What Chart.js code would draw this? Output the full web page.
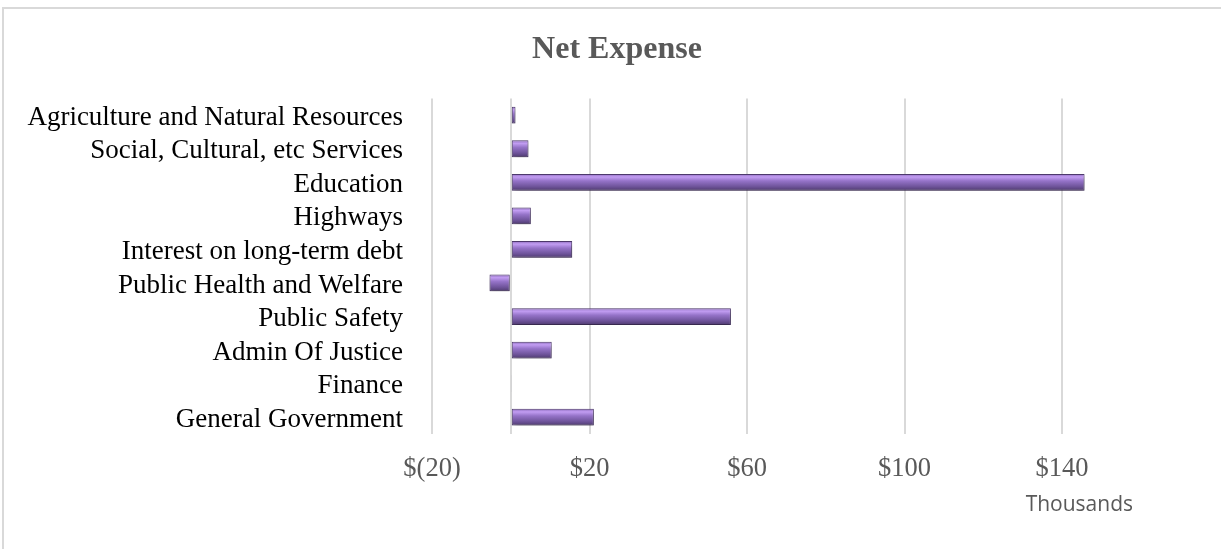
<!DOCTYPE html>
<html>
<head>
<meta charset="utf-8">
<script src="https://cdn.jsdelivr.net/npm/chart.js@4/dist/chart.umd.min.js"></script>
<style>
html,body{margin:0;padding:0;background:#fff;}
#wrap{position:absolute;left:0;top:0;width:1221px;height:549px;}
</style>
</head>
<body>
<div id="wrap"><canvas id="c" width="1221" height="549"></canvas></div>
<script>
const categories = [
  "Agriculture and Natural Resources",
  "Social, Cultural, etc Services",
  "Education",
  "Highways",
  "Interest on long-term debt",
  "Public Health and Welfare",
  "Public Safety",
  "Admin Of Justice",
  "Finance",
  "General Government"
];
const netExpense = [1.2, 4.5, 145.7, 5.1, 15.6, -5.4, 55.9, 10.4, 0.3, 21.1];
const tickValues = [-20, 0, 20, 60, 100, 140];
const labeledTicks = [-20, 20, 60, 100, 140];
const axisMin = -20, axisMax = 158;

function barGradient(ctx, el) {
  const h = el.height;
  const top = el.y - h / 2;
  const g = ctx.createLinearGradient(0, top, 0, top + h);
  g.addColorStop(0, '#8c6bbb');
  g.addColorStop(0.18, '#c29df2');
  g.addColorStop(0.42, '#9573c8');
  g.addColorStop(0.75, '#6f549b');
  g.addColorStop(1, '#4e3a6e');
  return g;
}

const framePlugin = {
  id: 'frame',
  beforeDraw(chart) {
    const ctx = chart.ctx;
    ctx.save();
    ctx.fillStyle = '#fff';
    ctx.fillRect(0, 0, chart.width, chart.height);
    ctx.strokeStyle = '#d9d9d9';
    ctx.lineWidth = 2;
    ctx.strokeRect(3, 8, chart.width + 20, chart.height + 20);
    ctx.restore();
  },
  beforeDatasetsDraw(chart) {
    const meta = chart.getDatasetMeta(0);
    const ctx = chart.ctx;
    meta.data.forEach(el => {
      el.options.backgroundColor = barGradient(ctx, el);
    });
    ctx.save();
    ctx.shadowColor = 'rgba(0,0,0,0.35)';
    ctx.shadowBlur = 5;
    ctx.shadowOffsetY = 3;
    ctx.shadowOffsetX = 1;
  },
  afterDatasetsDraw(chart) {
    chart.ctx.restore();
  }
};

new Chart(document.getElementById('c'), {
  type: 'bar',
  data: {
    labels: categories,
    datasets: [{
      label: 'Net Expense',
      data: netExpense,
      backgroundColor: (c) => '#8064a2',
      borderColor: (c) => '#4e3a6e',
      borderWidth: 1,
      borderSkipped: false,
      categoryPercentage: 1,
      barPercentage: 0.5
    }]
  },
  plugins: [framePlugin],
  options: {
    indexAxis: 'y',
    responsive: false,
    animation: false,
    devicePixelRatio: 1,
    layout: { padding: { left: 101, right: 88, top: 0, bottom: 0 } },
    plugins: {
      legend: { display: false },
      tooltip: { enabled: false },
      title: {
        display: true,
        text: 'Net Expense',
        color: '#595959',
        font: { family: 'Liberation Serif', size: 32, weight: 'bold' },
        padding: { top: 31, bottom: 29 }
      }
    },
    scales: {
      x: {
        type: 'linear',
        min: axisMin,
        max: axisMax,
        afterBuildTicks(scale) {
          scale.ticks = tickValues.map(v => ({ value: v }));
        },
        afterFit(scale) { scale.height = 115; },
        border: { display: false },
        grid: { color: '#d9d9d9', lineWidth: 2, drawTicks: false },
        ticks: {
          padding: 19,
          color: '#595959',
          font: { family: 'Liberation Serif', size: 26.5 },
          callback(v) {
            if (!labeledTicks.includes(v)) return '';
            return v < 0 ? '$(' + Math.abs(v) + ')' : '$' + v;
          }
        },
        title: {
          display: true,
          text: 'Thousands',
          align: 'end',
          color: '#595959',
          font: { family: 'Open Sans', size: 21 },
          padding: { top: 0, bottom: 31 }
        }
      },
      y: {
        afterFit(scale) {
          scale.width = 432 - 101;
          scale._computeLabelArea = () => null;
        },
        border: { display: false },
        grid: { display: false, drawTicks: false },
        ticks: {
          autoSkip: false,
          padding: 29,
          labelOffset: 2.5,
          color: '#000',
          font: { family: 'Liberation Serif', size: 27 }
        }
      }
    }
  }
});
</script>
</body>
</html>
